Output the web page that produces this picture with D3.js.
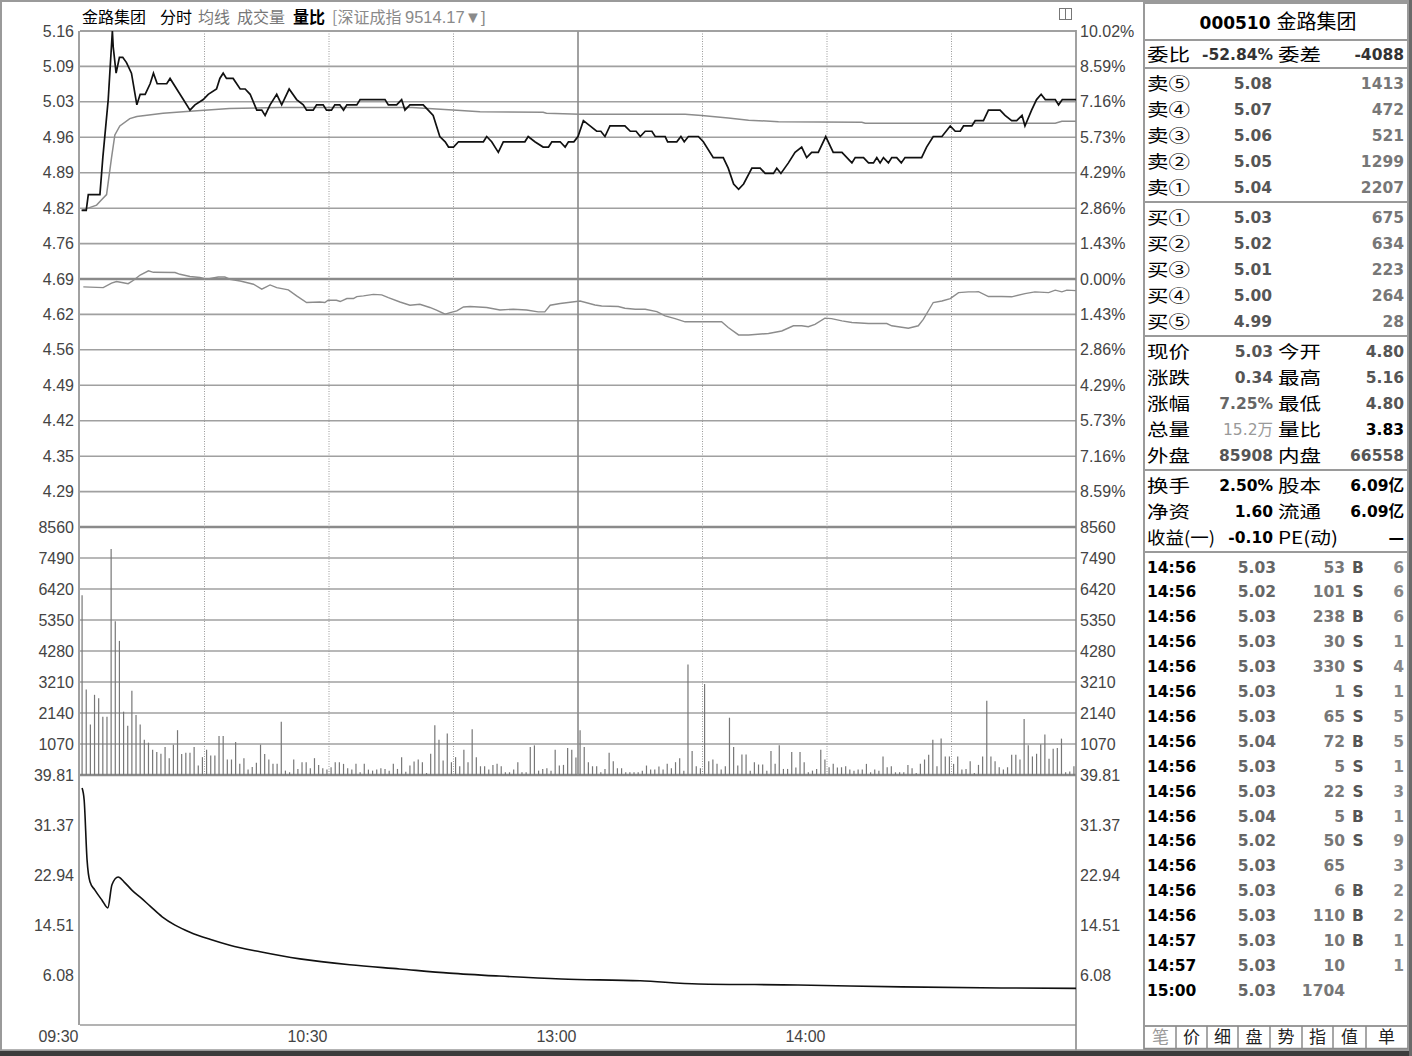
<!DOCTYPE html>
<html>
<head>
<meta charset="utf-8">
<script src="https://cdn.jsdelivr.net/npm/d3@7"></script>
<style>
  body { margin: 0; background: #fff; }
  svg { display: block; font-family: "Liberation Sans", Arial, sans-serif; }
  .axis text { font-size: 16px; fill: #444; }
  .cn { font-family: "Noto Sans CJK SC", sans-serif; }
  .num { font-family: "DejaVu Sans", sans-serif; font-weight: bold; font-size: 15.5px; }
</style>
</head>
<body>
<div id="chart"></div>
<script>
// ---- data ----
var preClose = 4.69;

// price line vertices (minute from 09:30, price)
var priceMin = [0.4,1.5,2,4.8,5.5,6.8,7.8,8,8.7,9.5,10.3,11.2,12.4,13.7,14.5,15.7,16.9,17.7,18.6,20.9,21.7,23.3,24.9,26.5,27.7,29.7,30.9,32.9,33.7,34.5,35.3,36.9,38.6,39.8,41,42.6,43.8,44.6,45.8,47.4,48.6,50.4,52.2,53.8,54.6,56.2,57,58.6,59.4,60.6,61.4,62.6,63.5,64.3,66.7,67.5,73.5,74.3,76.3,77.5,78.3,79.5,82.7,83.9,85.1,86.7,88,88.8,90,91.2,97.2,98,99.2,100.8,102,107.2,108,109.6,111.6,112.9,113.7,115.7,116.9,117.7,119,120,121.3,122.9,124.5,125.5,126.5,127.7,131.3,132.6,134,135,136.2,137.8,138.6,141,141.6,143.8,144.8,145.6,146.6,149,150.2,152.6,155,156.2,157.5,158.7,159.9,161.9,163.9,165.1,167.1,167.9,168.9,170.7,172.3,173.9,175.1,176.3,177.9,179.7,181.5,183.6,186,186.8,188.8,190,191.2,192,192.8,193.6,194.8,195.6,196.8,197.9,198.8,202.8,204,205.6,207.7,209.7,210.9,212.1,212.9,214.9,215.7,217.7,218.9,221.7,222.9,224.5,225.7,227,227.7,229.3,230.5,231.6,232.6,235,235.8,236.7,240];
var priceVal = [4.82,4.82,4.85,4.85,4.92,5.03,5.16,5.13,5.08,5.11,5.11,5.10,5.08,5.02,5.04,5.04,5.06,5.08,5.06,5.06,5.07,5.05,5.03,5.01,5.02,5.03,5.04,5.05,5.07,5.08,5.07,5.07,5.05,5.05,5.04,5.01,5.01,5.00,5.02,5.04,5.02,5.05,5.03,5.02,5.01,5.01,5.02,5.02,5.01,5.01,5.02,5.02,5.01,5.02,5.02,5.03,5.03,5.02,5.02,5.03,5.01,5.02,5.02,5.01,5.00,4.96,4.95,4.94,4.94,4.95,4.95,4.96,4.95,4.93,4.95,4.95,4.96,4.95,4.94,4.94,4.95,4.95,4.94,4.95,4.95,4.96,4.99,4.98,4.97,4.97,4.96,4.98,4.98,4.97,4.97,4.96,4.97,4.97,4.96,4.96,4.95,4.95,4.96,4.95,4.96,4.96,4.95,4.92,4.92,4.90,4.87,4.86,4.87,4.90,4.90,4.89,4.89,4.90,4.89,4.91,4.93,4.94,4.92,4.93,4.93,4.96,4.93,4.93,4.91,4.92,4.92,4.91,4.91,4.92,4.91,4.92,4.91,4.92,4.92,4.91,4.92,4.92,4.94,4.96,4.96,4.98,4.97,4.97,4.98,4.98,4.99,4.99,5.01,5.01,5.00,4.99,4.99,5.00,4.98,5.01,5.03,5.04,5.03,5.03,5.02,5.03,5.03];

// average price line vertices
var avgMin = [0.4,4,5.2,6.4,7.6,8.4,9.6,12,13.7,20,26.5,36,48,80,90.8,96.4,111.6,112.4,120.5,145.8,149.8,156.2,161.1,168.3,188.4,189.2,235,236.6,240];
var avgVal = [4.82,4.83,4.84,4.85,4.92,4.963,4.98,4.994,4.998,5.004,5.008,5.013,5.015,5.015,5.010,5.007,5.006,5.004,5.002,5.002,5.000,4.995,4.991,4.988,4.987,4.985,4.985,4.989,4.989];

// 深证成指 overlay, % change vertices
var idxMin = [0.8,5.6,7.6,8.8,10.4,11.6,12.9,14.5,16.5,17.7,22.9,24.1,26.5,28.9,30.5,33.3,34.9,36.1,38.6,41.8,43.8,45.8,47.4,50.2,52.2,54.6,57.8,59,59.8,61.8,62.7,64.3,65.9,66.7,68.3,70.7,72.7,74.3,77.1,79.5,81.9,84.3,85.9,88,89.2,90.8,92.4,94,98,101.2,104.4,107.6,110.4,112,113.3,115.7,120.5,124.1,125.7,129.7,131.3,133.8,136.2,139,141,143.4,145.8,154.6,156.2,158.7,161.1,165.9,169.1,171.9,173.9,175.5,177.1,179.5,181.1,183.6,186,190,194.4,195.6,199.6,202,203.2,205.6,207.7,209.7,211.7,214.1,215.7,216.5,218.9,222.1,224.5,227.7,230.1,233.4,235,236.6,237.8,240];
var idxPct = [-0.32,-0.35,-0.17,-0.10,-0.15,-0.19,-0.05,0.16,0.33,0.27,0.26,0.19,0.10,0.06,-0.01,0.08,0.08,-0.01,-0.08,-0.21,-0.41,-0.24,-0.35,-0.44,-0.68,-0.95,-0.93,-0.95,-0.86,-0.86,-0.91,-0.79,-0.79,-0.71,-0.68,-0.62,-0.64,-0.75,-0.93,-1.06,-1.02,-1.15,-1.26,-1.42,-1.36,-1.29,-1.13,-1.11,-1.15,-1.25,-1.22,-1.25,-1.33,-1.33,-1.06,-0.99,-0.89,-1.05,-1.09,-1.11,-1.18,-1.22,-1.22,-1.32,-1.49,-1.60,-1.73,-1.73,-1.96,-2.26,-2.26,-2.20,-2.10,-1.89,-1.89,-1.93,-1.83,-1.58,-1.60,-1.69,-1.76,-1.80,-1.80,-1.89,-1.99,-1.89,-1.63,-0.95,-0.89,-0.79,-0.55,-0.52,-0.52,-0.51,-0.71,-0.71,-0.72,-0.59,-0.52,-0.55,-0.45,-0.52,-0.45,-0.47];

// volume per minute (lots)
var volumes = [6200,2950,1745,2768,2652,2012,2012,7800,5303,4629,2186,1698,2907,2070,1745,1221,1116,872,791,733,
  965,581,1047,1547,721,768,768,965,326,616,872,675,675,1349,1349,535,535,1140,384,581,
  186,279,419,1047,721,535,384,384,1838,151,93,535,209,442,442,233,581,349,233,186,
  267,442,442,384,233,186,384,93,384,186,151,186,233,209,151,384,209,616,116,326,
  465,535,442,70,733,1721,1221,500,1430,442,616,302,872,442,1582,616,302,302,186,349,
  384,302,93,93,186,442,93,93,965,1023,151,209,233,151,872,326,349,930,872,600,
  1547,965,442,302,302,93,209,768,477,233,233,93,93,93,93,151,326,186,186,291,
  186,384,233,442,581,151,3815,826,302,233,3140,477,535,384,186,302,1977,965,326,709,
  709,151,442,361,361,151,826,384,1023,209,209,791,256,791,442,93,151,209,872,535,
  267,384,256,267,302,186,151,186,186,384,93,186,151,640,267,302,93,93,93,349,
  233,70,384,535,698,1221,302,1256,640,640,384,640,186,209,477,70,349,640,2559,640,
  477,267,186,267,698,698,535,1931,1023,640,733,1058,1396,558,907,930,1256,93,120,300];

// 量比 line vertices
var ratioMin = [0.5,1,1.7,2.4,3.6,5.3,6.7,7.7,9.2,10.6,12.5,14.5,16.9,19.8,22.9,26.5,31.3,36.1,43.4,53,65,77,89,101,116,135,149,173,198,222,240];
var ratioVal = [37.6,35.6,25.5,21.8,20.4,18.7,17.4,21.3,22.6,21.8,20.4,19.2,17.7,15.9,14.5,13.3,12.1,11.1,10.0,8.8,7.8,7.1,6.4,5.9,5.4,5.1,4.57,4.4,4.07,3.9,3.83];

// tick labels
var pctTicks = [10.02,8.59,7.16,5.73,4.29,2.86,1.43,0,-1.43,-2.86,-4.29,-5.73,-7.16,-8.59];
var priceLabels = ["5.16","5.09","5.03","4.96","4.89","4.82","4.76","4.69","4.62","4.56","4.49","4.42","4.35","4.29"];
var pctLabels = ["10.02%","8.59%","7.16%","5.73%","4.29%","2.86%","1.43%","0.00%","1.43%","2.86%","4.29%","5.73%","7.16%","8.59%"];
var volTicks = [8560,7490,6420,5350,4280,3210,2140,1070];
var ratioTicks = [39.81,31.37,22.94,14.51,6.08];
var timeTicks = [0,60,120,180];
var timeLabels = ["09:30","10:30","13:00","14:00"];

// right panel
var askNames = ["卖⑤","卖④","卖③","卖②","卖①"];
var askPrices = ["5.08","5.07","5.06","5.05","5.04"];
var askVols = ["1413","472","521","1299","2207"];
var bidNames = ["买①","买②","买③","买④","买⑤"];
var bidPrices = ["5.03","5.02","5.01","5.00","4.99"];
var bidVols = ["675","634","223","264","28"];
var quoteNames = ["现价","涨跌","涨幅","总量","外盘"];
var quoteVals = ["5.03","0.34","7.25%","15.2万","85908"];
var quoteNames2 = ["今开","最高","最低","量比","内盘"];
var quoteVals2 = ["4.80","5.16","4.80","3.83","66558"];
var infoNames = ["换手","净资","收益(一)"];
var infoVals = ["2.50%","1.60","-0.10"];
var infoNames2 = ["股本","流通","PE(动)"];
var infoVals2 = ["6.09亿","6.09亿","—"];
var tradeTimes = ["14:56","14:56","14:56","14:56","14:56","14:56","14:56","14:56","14:56","14:56","14:56","14:56","14:56","14:56","14:56","14:57","14:57","15:00"];
var tradePrices = ["5.03","5.02","5.03","5.03","5.03","5.03","5.03","5.04","5.03","5.03","5.04","5.02","5.03","5.03","5.03","5.03","5.03","5.03"];
var tradeVols = ["53","101","238","30","330","1","65","72","5","22","5","50","65","6","110","10","10","1704"];
var tradeSides = ["B","S","B","S","S","S","S","B","S","S","B","S","","B","B","B","",""];
var tradeCounts = ["6","6","6","1","4","1","5","5","1","3","1","9","3","2","2","1","1",""];
var tabs = ["笔","价","细","盘","势","指","值","单"];

// ---- layout ----
var svgWidth = 1412, svgHeight = 1056;
var left = 80, right = 1076;
var priceTop = 31, priceBottom = 527, volBottom = 775, ratioBottom = 1025;

var svg = d3.select("#chart").append("svg")
    .attr("width", svgWidth)
    .attr("height", svgHeight);

svg.append("rect").attr("width", svgWidth).attr("height", svgHeight).attr("fill", "#fff");

// scales
var xScale = d3.scaleLinear().domain([0, 240]).range([left, right]);
var yPrice = d3.scaleLinear()
    .domain([preClose * (1 - 0.1002), preClose * (1 + 0.1002)])
    .range([priceBottom, priceTop]);
var yVol = d3.scaleLinear().domain([0, 8560]).range([volBottom, priceBottom]);
var yRatio = d3.scaleLinear().domain([39.81 - 5 * 8.4325, 39.81]).range([ratioBottom, volBottom]);
var pctToPrice = function (p) { return preClose * (1 + p / 100); };

// frame
svg.append("rect").attr("x", 1).attr("y", 1).attr("width", 1408).attr("height", 1050)
    .attr("fill", "none").attr("stroke", "#9a9a9a").attr("stroke-width", 2);
svg.append("rect").attr("x", 0).attr("y", 1051).attr("width", svgWidth).attr("height", 5).attr("fill", "#3c3c3c");
svg.append("rect").attr("x", 1409).attr("y", 0).attr("width", 3).attr("height", svgHeight).attr("fill", "#6a6a6a");

var grid = svg.append("g");

// horizontal grid lines
grid.selectAll(".hp").data(pctTicks).enter().append("line")
    .attr("x1", left).attr("x2", right)
    .attr("y1", d => yPrice(pctToPrice(d))).attr("y2", d => yPrice(pctToPrice(d)))
    .attr("stroke", d => d === 0 ? "#8a8a8a" : "#a0a0a0")
    .attr("stroke-width", d => d === 0 ? 2.6 : 1.6);
grid.selectAll(".hv").data(volTicks.slice(1)).enter().append("line")
    .attr("x1", left).attr("x2", right)
    .attr("y1", d => yVol(d)).attr("y2", d => yVol(d))
    .attr("stroke", "#a0a0a0").attr("stroke-width", 1.6);
[priceBottom, volBottom].forEach(function (y) {
  grid.append("line").attr("x1", left).attr("x2", right).attr("y1", y).attr("y2", y)
      .attr("stroke", "#8a8a8a").attr("stroke-width", 2.6);
});
grid.append("line").attr("x1", left).attr("x2", right).attr("y1", ratioBottom).attr("y2", ratioBottom)
    .attr("stroke", "#9a9a9a").attr("stroke-width", 1.6);

// vertical grid lines every 30 minutes
var halfHours = [30, 60, 90, 120, 150, 180, 210];
grid.selectAll(".vg").data(halfHours).enter().append("line")
    .attr("x1", d => xScale(d)).attr("x2", d => xScale(d))
    .attr("y1", priceTop).attr("y2", volBottom)
    .attr("stroke", d => d === 120 ? "#8a8a8a" : "#999")
    .attr("stroke-width", d => d === 120 ? 1.6 : 1)
    .attr("stroke-dasharray", d => d === 120 ? null : "1,1.5");

// plot borders
grid.append("line").attr("x1", left - 1).attr("x2", left - 1).attr("y1", priceTop).attr("y2", ratioBottom)
    .attr("stroke", "#8a8a8a").attr("stroke-width", 1.6);
grid.append("line").attr("x1", right).attr("x2", right).attr("y1", priceTop - 1).attr("y2", 1051)
    .attr("stroke", "#8a8a8a").attr("stroke-width", 1.6);
grid.append("line").attr("x1", left).attr("x2", right).attr("y1", priceTop).attr("y2", priceTop)
    .attr("stroke", "#9a9a9a").attr("stroke-width", 1.6);

// axes
function cleanAxis(g) {
  g.select(".domain").remove();
  g.selectAll(".tick line").remove();
}
svg.append("g").attr("class", "axis").attr("transform", `translate(${left - 6},0)`)
    .call(d3.axisLeft(yPrice).tickValues(pctTicks.map(pctToPrice)).tickFormat((d, i) => priceLabels[i]).tickSize(0).tickPadding(0))
    .call(cleanAxis);
svg.append("g").attr("class", "axis").attr("transform", `translate(${right + 4},0)`)
    .call(d3.axisRight(yPrice).tickValues(pctTicks.map(pctToPrice)).tickFormat((d, i) => pctLabels[i]).tickSize(0).tickPadding(0))
    .call(cleanAxis);
svg.append("g").attr("class", "axis").attr("transform", `translate(${left - 6},0)`)
    .call(d3.axisLeft(yVol).tickValues(volTicks).tickFormat(d3.format("d")).tickSize(0).tickPadding(0))
    .call(cleanAxis);
svg.append("g").attr("class", "axis").attr("transform", `translate(${right + 4},0)`)
    .call(d3.axisRight(yVol).tickValues(volTicks).tickFormat(d3.format("d")).tickSize(0).tickPadding(0))
    .call(cleanAxis);
svg.append("g").attr("class", "axis").attr("transform", `translate(${left - 6},0)`)
    .call(d3.axisLeft(yRatio).tickValues(ratioTicks).tickFormat(d3.format(".2f")).tickSize(0).tickPadding(0))
    .call(cleanAxis);
svg.append("g").attr("class", "axis").attr("transform", `translate(${right + 4},0)`)
    .call(d3.axisRight(yRatio).tickValues(ratioTicks).tickFormat(d3.format(".2f")).tickSize(0).tickPadding(0))
    .call(cleanAxis);
svg.append("g").attr("class", "axis").attr("transform", `translate(0,${ratioBottom})`)
    .call(d3.axisBottom(xScale).tickValues(timeTicks).tickFormat((d, i) => timeLabels[i]).tickSize(0).tickPadding(6))
    .call(cleanAxis)
    .selectAll("text").attr("text-anchor", "end").attr("dx", "-2").attr("fill", "#666");
svg.append("line").attr("x1", 2).attr("x2", 1144).attr("y1", 1050).attr("y2", 1050)
    .attr("stroke", "#9a9a9a").attr("stroke-width", 1.6);

// volume bars
var chartGroup = svg.append("g");
chartGroup.selectAll(".vol").data(volumes).enter().append("line")
    .attr("x1", (d, i) => xScale(i + 0.5)).attr("x2", (d, i) => xScale(i + 0.5))
    .attr("y1", yVol(0)).attr("y2", d => yVol(d))
    .attr("stroke", "#777").attr("stroke-width", 1.2);

// lines
var idxLine = d3.line().x(d => xScale(d[0])).y(d => yPrice(pctToPrice(d[1])));
chartGroup.append("path").datum(d3.zip(idxMin, idxPct))
    .attr("d", idxLine).attr("fill", "none").attr("stroke", "#8c8c8c").attr("stroke-width", 1.4);

var pLine = d3.line().x(d => xScale(d[0])).y(d => yPrice(d[1]));
chartGroup.append("path").datum(d3.zip(avgMin, avgVal))
    .attr("d", pLine).attr("fill", "none").attr("stroke", "#8c8c8c").attr("stroke-width", 1.5);
chartGroup.append("path").datum(d3.zip(priceMin, priceVal))
    .attr("d", pLine).attr("fill", "none").attr("stroke", "#111").attr("stroke-width", 1.7);

var rLine = d3.line().x(d => xScale(d[0])).y(d => yRatio(d[1])).curve(d3.curveMonotoneX);
chartGroup.append("path").datum(d3.zip(ratioMin, ratioVal))
    .attr("d", rLine).attr("fill", "none").attr("stroke", "#111").attr("stroke-width", 1.6);

// header
var header = svg.append("text").attr("class", "cn").attr("x", 82).attr("y", 23).style("font-size", "16px");
header.append("tspan").attr("fill", "#000").text("金路集团");
header.append("tspan").attr("x", 160).attr("fill", "#000").text("分时");
header.append("tspan").attr("x", 198).attr("fill", "#777").text("均线");
header.append("tspan").attr("x", 237).attr("fill", "#777").text("成交量");
header.append("tspan").attr("x", 293).attr("fill", "#000").attr("font-weight", "bold").text("量比");
header.append("tspan").attr("x", 332).attr("fill", "#8a8a8a").text("[深证成指 ");
header.append("tspan").attr("fill", "#8a8a8a").style("font-family", "Liberation Sans, sans-serif")
    .style("font-size", "16.5px").text("9514.17▼]");
svg.append("rect").attr("x", 1059.5).attr("y", 8.5).attr("width", 12).attr("height", 11)
    .attr("fill", "none").attr("stroke", "#777");
svg.append("line").attr("x1", 1065.5).attr("x2", 1065.5).attr("y1", 8.5).attr("y2", 19.5).attr("stroke", "#777");

// ---- right panel ----
var panel = svg.append("g");
panel.append("rect").attr("x", 1144).attr("y", 3).attr("width", 264).attr("height", 1047)
    .attr("fill", "#fff").attr("stroke", "#9a9a9a").attr("stroke-width", 2);
[40, 68, 202, 336, 470, 552, 1026].forEach(function (y) {
  panel.append("line").attr("x1", 1144).attr("x2", 1408).attr("y1", y).attr("y2", y)
      .attr("stroke", "#9a9a9a").attr("stroke-width", 2);
});

var title = panel.append("text").attr("x", 1278).attr("y", 29).attr("text-anchor", "middle").attr("fill", "#000");
title.append("tspan").attr("class", "num").style("font-size", "17px").text("000510 ");
title.append("tspan").attr("class", "cn").style("font-size", "20px").text("金路集团");

// CJK labels: 17.5px glyphs stretched to the reference width so rows stay clear of each other
function label(x, y, t, width) {
  return panel.append("text").attr("class", "cn").attr("x", x).attr("y", y + 6.5)
      .style("font-size", "17.5px").attr("fill", "#000")
      .attr("textLength", width || 43).attr("lengthAdjust", "spacingAndGlyphs").text(t);
}
function num(x, y, t, color, weight) {
  return panel.append("text").attr("class", "num").attr("x", x).attr("y", y + 5.5)
      .attr("text-anchor", "end").attr("fill", color)
      .style("font-weight", weight || "bold").text(t);
}

label(1147, 54, "委比");
num(1273, 54, "-52.84%", "#333");
label(1278, 54, "委差");
num(1404, 54, "-4088", "#333");

askNames.forEach(function (n, i) {
  var y = 83 + i * 26;
  label(1147, y, n);
  num(1272, y, askPrices[i], "#555");
  num(1404, y, askVols[i], "#777");
});
bidNames.forEach(function (n, i) {
  var y = 217 + i * 26;
  label(1147, y, n);
  num(1272, y, bidPrices[i], "#555");
  num(1404, y, bidVols[i], "#777");
});

var quoteColor1 = ["#555", "#555", "#666", "#999", "#555"];
var quoteColor2 = ["#555", "#555", "#555", "#000", "#555"];
quoteNames.forEach(function (n, i) {
  var y = 351 + i * 26;
  label(1147, y, n);
  var t = num(1273, y, quoteVals[i], quoteColor1[i], i === 3 ? "normal" : "bold");
  if (i === 3) t.style("font-family", "DejaVu Sans, Noto Sans CJK SC, sans-serif");
  label(1278, y, quoteNames2[i]);
  num(1404, y, quoteVals2[i], quoteColor2[i]);
});
infoNames.forEach(function (n, i) {
  var y = 485 + i * 26;
  label(1147, y, n, i === 2 ? 68 : 43);
  num(1273, y, infoVals[i], "#000");
  label(1278, y, infoNames2[i], i === 2 ? 60 : 43);
  var v = num(1404, y, infoVals2[i], "#000");
  v.style("font-family", "DejaVu Sans, Noto Sans CJK SC, sans-serif");
});

tradeTimes.forEach(function (t, i) {
  var y = 567 + i * 24.9;
  panel.append("text").attr("class", "num").attr("x", 1147).attr("y", y + 5.5).attr("fill", "#000").text(t);
  num(1276, y, tradePrices[i], "#666");
  num(1345, y, tradeVols[i], "#777");
  panel.append("text").attr("class", "num").attr("x", 1358).attr("y", y + 5.5)
      .attr("text-anchor", "middle").attr("fill", "#555").text(tradeSides[i]);
  num(1404, y, tradeCounts[i], "#888");
});

// tabs
var tabEdges = [1145, 1176, 1207, 1238, 1270, 1302, 1333, 1366, 1407];
tabEdges.slice(1, -1).forEach(function (x) {
  panel.append("line").attr("x1", x).attr("x2", x).attr("y1", 1026).attr("y2", 1049)
      .attr("stroke", "#8a8a8a").attr("stroke-width", 1.5);
});
panel.append("line").attr("x1", 1144).attr("x2", 1408).attr("y1", 1048.5).attr("y2", 1048.5)
    .attr("stroke", "#8a8a8a").attr("stroke-width", 1.5);
tabs.forEach(function (t, i) {
  panel.append("text").attr("class", "cn").attr("x", (tabEdges[i] + tabEdges[i + 1]) / 2).attr("y", 1043)
      .attr("text-anchor", "middle").style("font-size", "17px")
      .attr("fill", i === 0 ? "#999" : "#222").text(t);
});
</script>
</body>
</html>
